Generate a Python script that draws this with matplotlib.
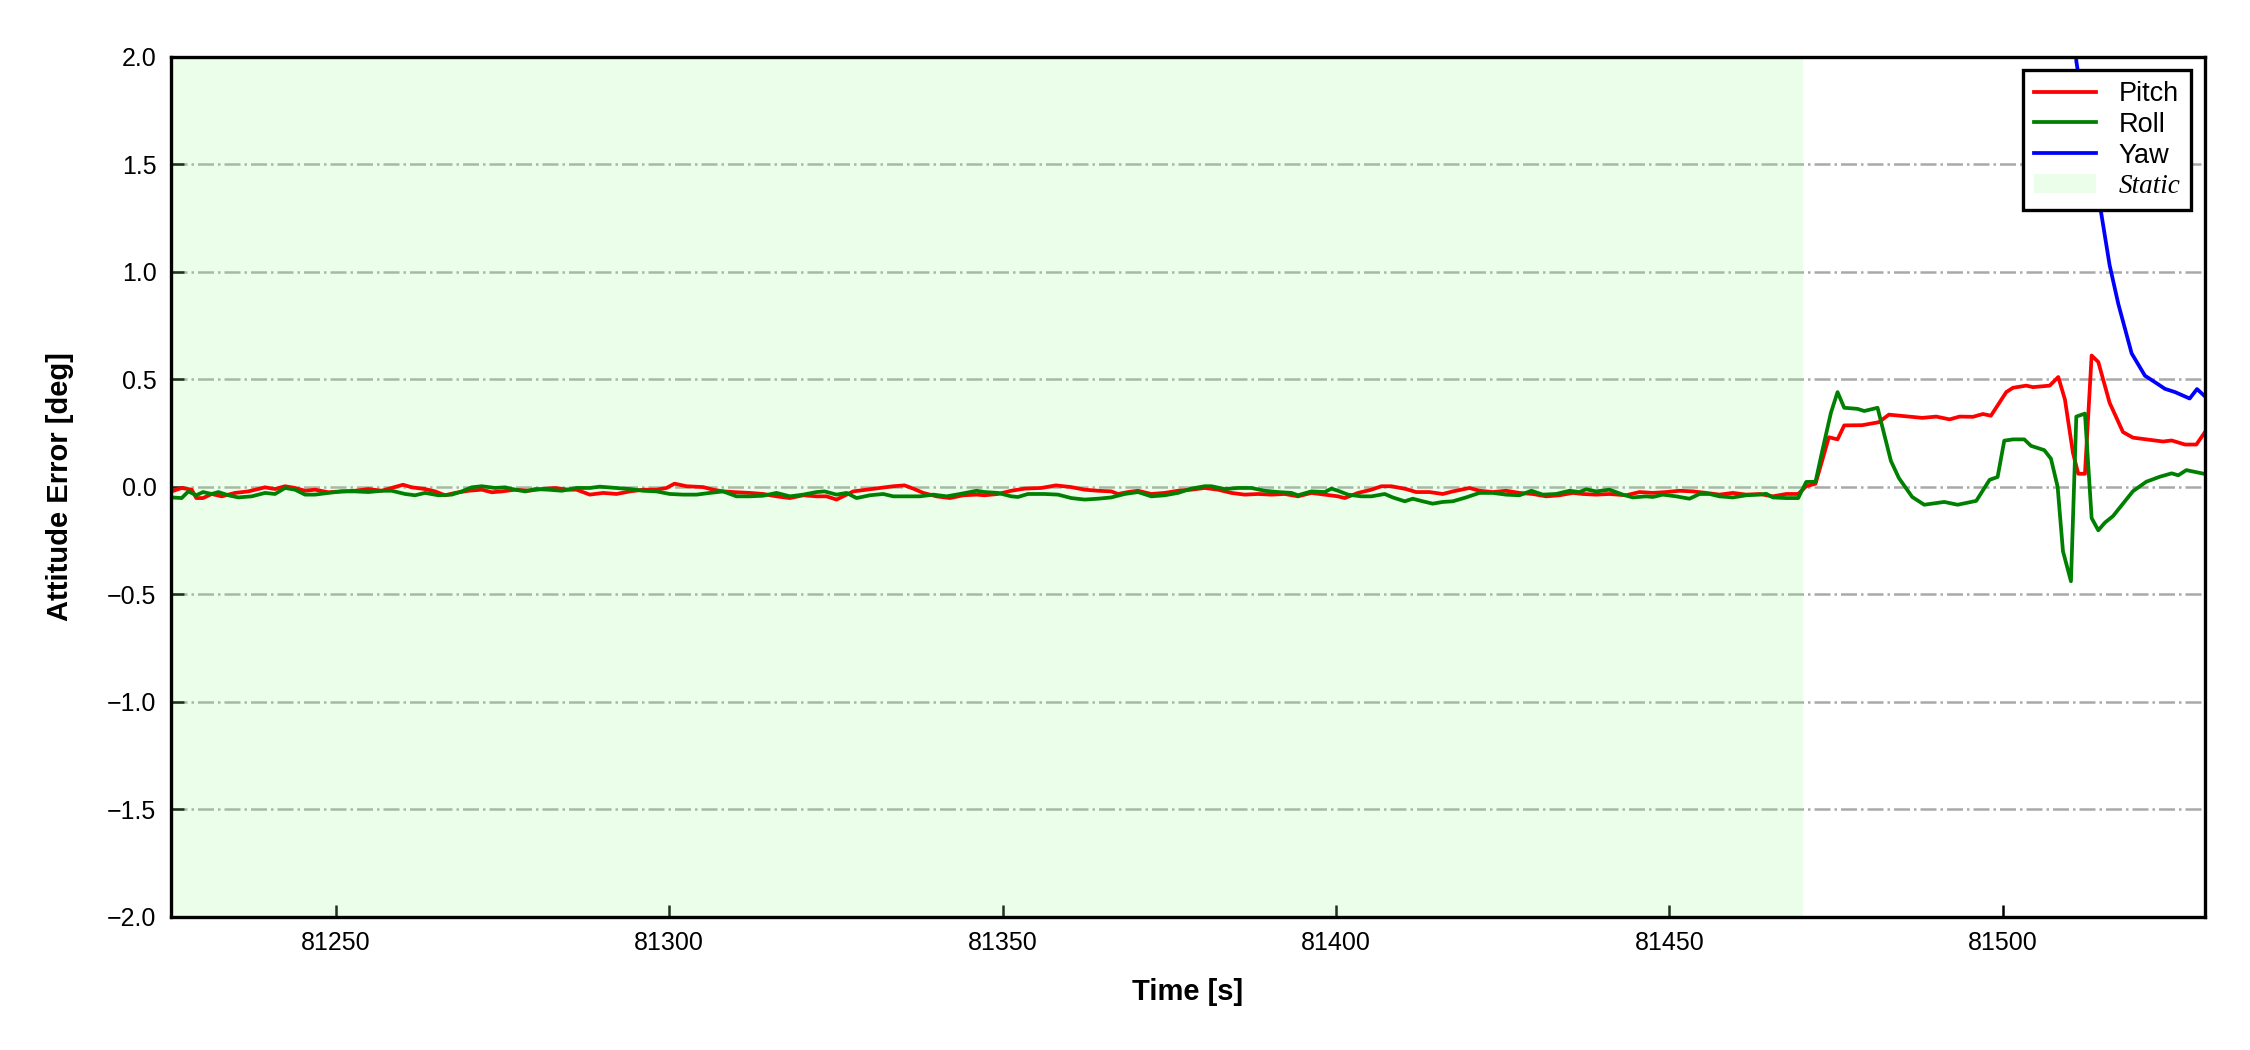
import matplotlib
matplotlib.use("Agg")
import matplotlib.pyplot as plt

plt.rcParams['font.family'] = ['Liberation Sans', 'DejaVu Sans']

t_pitch = [81225.4, 81226.9, 81228.4, 81229.1, 81230.1, 81231.4, 81232.9, 81234.9, 81236.9, 81239.4,
           81240.9, 81242.4, 81243.9, 81245.4, 81246.9, 81248.9, 81250.9, 81252.9, 81254.9, 81256.9,
           81258.4, 81260.1, 81261.4, 81263.4, 81264.9, 81266.4, 81267.9, 81269.9, 81271.9, 81273.4,
           81274.9, 81276.9, 81278.9, 81280.9, 81282.9, 81284.9,
           81286.1, 81288.1, 81290.1, 81292.1, 81294.1, 81296.1, 81298.1, 81299.6, 81300.8, 81302.6,
           81305.1, 81306.6, 81308.1, 81310.1, 81312.1, 81314.1, 81316.1, 81318.1, 81320.1, 81322.1,
           81323.6, 81325.1, 81326.1, 81327.6, 81329.6, 81331.6, 81333.6, 81335.3, 81336.6, 81338.1,
           81340.1, 81342.1, 81344.1, 81346.1,
           81347.3, 81349.3, 81351.3, 81353.3, 81355.8, 81358.0, 81360.3, 81362.3, 81364.3, 81366.3,
           81367.3, 81368.8, 81370.3, 81372.3, 81374.3, 81376.3, 81378.3, 81380.3, 81382.3, 81384.3,
           81386.3, 81388.3, 81390.3, 81392.3, 81394.3, 81396.3, 81398.3, 81400.3, 81401.3, 81403.3,
           81405.3, 81406.8, 81408.3,
           81410.5, 81412.0, 81414.0, 81416.0, 81417.5, 81420.0, 81421.5, 81423.5, 81425.5, 81427.5,
           81429.5, 81431.5, 81433.5, 81435.5, 81437.0, 81439.0, 81441.0, 81443.5, 81445.5, 81447.5,
           81449.5, 81451.5, 81453.5, 81455.5, 81457.5, 81459.5, 81461.5, 81463.5, 81465.5, 81467.5,
           81469.3, 81470.5,
           81471.9, 81473.9, 81475.2, 81476.2, 81478.9, 81481.4, 81482.9, 81487.9, 81490.0, 81492.0,
           81493.5, 81495.5, 81497.0, 81498.2, 81500.5, 81501.5, 81503.5, 81504.5, 81507.0, 81508.3,
           81509.3, 81510.5, 81511.3, 81512.3, 81513.3, 81514.3, 81516.0, 81518.0, 81519.5, 81521.5,
           81524.0, 81525.3, 81527.3, 81529.0, 81530.3]
pitch = [-0.022, -0.006, -0.014, -0.053, -0.053, -0.034, -0.045, -0.029, -0.022, -0.003,
         -0.011, 0.002, -0.006, -0.019, -0.014, -0.026, -0.022, -0.019, -0.011, -0.019,
         -0.006, 0.009, -0.003, -0.011, -0.022, -0.040, -0.029, -0.019, -0.014, -0.026,
         -0.022, -0.014, -0.019, -0.011, -0.006, -0.014,
         -0.014, -0.037, -0.029, -0.034, -0.022, -0.014, -0.014, -0.006, 0.014, 0.002,
         -0.002, -0.014, -0.022, -0.026, -0.029, -0.034, -0.045, -0.053, -0.040, -0.045,
         -0.045, -0.060, -0.045, -0.022, -0.014, -0.006, 0.002, 0.006, -0.009, -0.029,
         -0.045, -0.053, -0.040, -0.037,
         -0.040, -0.034, -0.019, -0.009, -0.006, 0.006, -0.002, -0.014, -0.019, -0.022,
         -0.034, -0.025, -0.019, -0.034, -0.029, -0.019, -0.014, -0.006, -0.014, -0.029,
         -0.037, -0.034, -0.037, -0.034, -0.045, -0.029, -0.037, -0.045, -0.053, -0.029,
         -0.014, 0.002, 0.002,
         -0.011, -0.025, -0.025, -0.034, -0.022, -0.006, -0.019, -0.025, -0.019, -0.029,
         -0.034, -0.045, -0.040, -0.029, -0.034, -0.037, -0.034, -0.040, -0.025, -0.029,
         -0.025, -0.019, -0.022, -0.029, -0.037, -0.029, -0.037, -0.034, -0.045, -0.034,
         -0.034, 0.002,
         0.014, 0.23, 0.22, 0.285, 0.286, 0.30, 0.335, 0.32, 0.326, 0.313,
         0.326, 0.325, 0.338, 0.33, 0.44, 0.46, 0.47, 0.463, 0.47, 0.51,
         0.405, 0.157, 0.06, 0.06, 0.61, 0.58, 0.39, 0.254, 0.228, 0.22,
         0.21, 0.215, 0.196, 0.196, 0.254]

t_roll = [81225.4, 81226.9, 81227.9, 81229.1, 81230.1, 81231.4, 81232.4, 81233.9, 81235.4, 81237.4,
          81239.4, 81240.9, 81242.4, 81243.9, 81245.4, 81246.9, 81248.9, 81250.9, 81252.9, 81254.9,
          81256.9, 81258.4, 81260.4, 81261.9, 81263.4, 81265.4, 81267.4, 81268.9, 81270.4, 81271.9,
          81273.9, 81275.4, 81276.9, 81278.4, 81279.9, 81281.9, 81283.9,
          81286.1, 81288.1, 81289.6, 81292.1, 81294.1, 81296.1, 81298.1, 81300.1, 81302.1, 81304.1,
          81306.1, 81308.1, 81310.1, 81312.1, 81314.1, 81316.1, 81318.1, 81320.1, 81322.1, 81323.3,
          81325.1, 81326.6, 81328.1, 81330.1, 81332.1, 81333.6, 81335.6, 81337.6, 81339.6, 81341.6,
          81343.6, 81346.1,
          81347.3, 81349.3, 81351.3, 81352.3, 81353.8, 81356.3, 81358.3, 81360.3, 81362.3, 81364.3,
          81366.3, 81368.3, 81370.3, 81372.3, 81374.3, 81376.3, 81378.3, 81380.3, 81381.3, 81383.3,
          81385.3, 81387.3, 81389.3, 81391.3, 81393.3, 81394.3, 81396.3, 81398.3, 81399.3, 81400.3,
          81401.8, 81403.8, 81405.3, 81407.3,
          81408.5, 81410.3, 81411.5, 81413.0, 81414.5, 81416.0, 81417.5, 81419.5, 81421.5, 81423.5,
          81425.5, 81427.5, 81429.3, 81431.0, 81433.0, 81435.0, 81436.5, 81437.5, 81439.0, 81441.0,
          81443.0, 81444.5, 81446.5, 81447.5, 81449.0, 81451.0, 81453.0, 81454.5, 81456.0, 81457.5,
          81459.5, 81461.5, 81463.5, 81464.5, 81465.5, 81467.5, 81469.3, 81470.5,
          81471.9, 81472.9, 81474.2, 81475.2, 81476.2, 81478.2, 81479.2, 81481.2, 81483.2, 81484.4,
          81486.4, 81488.2, 81491.2, 81493.2, 81496.0, 81498.0, 81499.2, 81500.2, 81501.5, 81503.2,
          81504.2, 81506.2, 81507.2, 81508.2, 81509.0, 81510.2, 81511.0, 81512.3, 81513.3, 81514.3,
          81515.3, 81516.5, 81519.5, 81521.5, 81523.5, 81525.3, 81526.3, 81527.5, 81530.3]
roll = [-0.050, -0.053, -0.022, -0.040, -0.025, -0.034, -0.025, -0.040, -0.050, -0.045,
        -0.029, -0.034, -0.006, -0.014, -0.037, -0.037, -0.029, -0.022, -0.022, -0.025,
        -0.019, -0.019, -0.034, -0.040, -0.029, -0.040, -0.037, -0.022, -0.003, 0.002,
        -0.006, -0.003, -0.014, -0.022, -0.011, -0.014, -0.019,
        -0.006, -0.006, 0.0, -0.006, -0.011, -0.019, -0.022, -0.034, -0.037, -0.037,
        -0.029, -0.022, -0.045, -0.045, -0.042, -0.029, -0.045, -0.037, -0.025, -0.022,
        -0.037, -0.029, -0.053, -0.040, -0.034, -0.045, -0.045, -0.045, -0.037, -0.045,
        -0.034, -0.019,
        -0.025, -0.029, -0.045, -0.048, -0.034, -0.034, -0.037, -0.053, -0.060, -0.056,
        -0.050, -0.034, -0.025, -0.045, -0.040, -0.029, -0.009, 0.002, 0.002, -0.011,
        -0.006, -0.006, -0.019, -0.025, -0.029, -0.040, -0.022, -0.025, -0.009, -0.019,
        -0.037, -0.045, -0.045, -0.034,
        -0.050, -0.068, -0.056, -0.068, -0.079, -0.071, -0.068, -0.050, -0.029, -0.029,
        -0.037, -0.040, -0.019, -0.037, -0.034, -0.019, -0.025, -0.012, -0.022, -0.014,
        -0.037, -0.050, -0.045, -0.048, -0.037, -0.045, -0.056, -0.034, -0.034, -0.045,
        -0.050, -0.040, -0.037, -0.033, -0.050, -0.053, -0.053, 0.022,
        0.023, 0.165, 0.343, 0.44, 0.367, 0.362, 0.352, 0.367, 0.12, 0.04,
        -0.048, -0.084, -0.071, -0.084, -0.066, 0.032, 0.045, 0.214, 0.22, 0.22,
        0.19, 0.17, 0.13, 0.0, -0.30, -0.44, 0.326, 0.34, -0.146, -0.203,
        -0.167, -0.137, -0.021, 0.023, 0.046, 0.062, 0.053, 0.077, 0.059]

t_yaw = [81510.0, 81511.0, 81512.0, 81513.0, 81514.0, 81514.8, 81516.0, 81517.3, 81519.3, 81521.3,
         81522.8, 81524.3, 81525.8, 81528.0, 81529.1, 81530.3]
yaw = [6.0, 1.98, 1.78, 1.59, 1.41, 1.26, 1.03, 0.85, 0.62, 0.516,
       0.486, 0.455, 0.44, 0.41, 0.454, 0.42]

static_start = 81225.3
static_end = 81470.0
x_range = (81225.3, 81530.3)
y_range = (-2.0, 2.0)


def main():
    fig = plt.figure(figsize=(7.5, 3.5), dpi=300)
    ax = fig.add_axes([0.076, 0.127, 0.904, 0.819])

    ax.axvspan(static_start, static_end, facecolor='palegreen', alpha=0.2, lw=0, label='Static')
    ax.plot(t_pitch, pitch, color='red', lw=0.9, label='Pitch')
    ax.plot(t_roll, roll, color='green', lw=0.9, label='Roll')
    ax.plot(t_yaw, yaw, color='blue', lw=0.9, label='Yaw')

    ax.set_xlim(*x_range)
    ax.set_ylim(*y_range)
    ax.set_yticks([-2.0, -1.5, -1.0, -0.5, 0.0, 0.5, 1.0, 1.5, 2.0])
    ax.set_xticks([81250, 81300, 81350, 81400, 81450, 81500])
    ax.yaxis.grid(True, linestyle='-.', color='darkgray', lw=0.6)
    ax.set_axisbelow(True)

    ax.tick_params(direction='in', length=3, width=0.6, labelsize=6, top=False, right=False)
    for sp in ax.spines.values():
        sp.set_linewidth(0.8)

    ax.set_xlabel('Time [s]', fontsize=7, fontweight='bold', labelpad=5.5)
    ax.set_ylabel('Attitude Error [deg]', fontsize=7, fontweight='bold', labelpad=8)

    handles, labels = ax.get_legend_handles_labels()
    order = [1, 2, 3, 0]
    leg = ax.legend([handles[i] for i in order], [labels[i] for i in order],
                    loc='upper right', fontsize=6.5, fancybox=False, framealpha=1,
                    edgecolor='black', handlelength=2.3, labelspacing=0.18,
                    borderpad=0.4, handletextpad=0.85)
    leg.get_frame().set_linewidth(0.8)
    st = leg.get_texts()[3]
    st.set_fontfamily('Liberation Serif')
    st.set_fontstyle('italic')

    fig.savefig('out.png', dpi=300)
    plt.close(fig)


if __name__ == "__main__":
    main()
